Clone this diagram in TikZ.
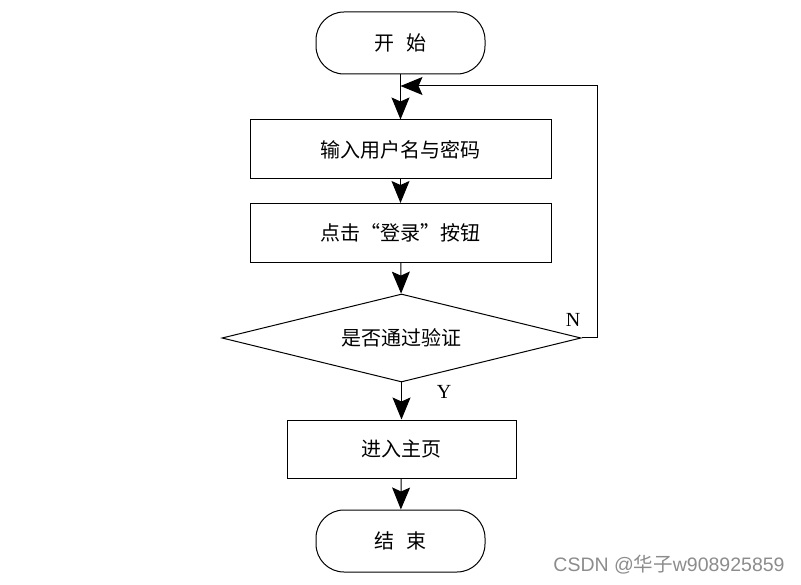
\documentclass[tikz,border=0pt]{standalone}
\usepackage{fontspec}
\setmainfont{Liberation Serif}
\newfontfamily\cjk{Noto Sans CJK SC}
\newfontfamily\wmfont{Liberation Sans}
\usetikzlibrary{arrows.meta,shapes.geometric}
\begin{document}
\begin{tikzpicture}[x=1pt,y=-1pt,
  line width=1pt,
  every node/.style={font=\cjk\fontsize{20}{20}\selectfont},
  term/.style={draw, rounded corners=28pt, minimum width=169pt, minimum height=62pt, inner sep=0pt},
  proc/.style={draw, minimum width=301pt, minimum height=59pt, inner sep=0pt},
  dec/.style={draw, diamond, aspect=4, minimum width=359pt, minimum height=88pt, inner sep=0pt},
  flow/.style={-{Stealth[length=22pt,width=18pt,inset=4pt]}},
  lbl/.style={font=\rmfamily\fontsize{20}{20}\selectfont}]
\useasboundingbox (0,0) rectangle (801,585);
\node[term] (start) at (400.5,43) {开\hspace{0.6em}始};
\node[proc] (in) at (400.5,149.5) {输入用户名与密码};
\node[proc] (click) at (400.5,233) {点击“登录”按钮};
\node[dec] (check) at (401.5,338) {是否通过验证};
\node[proc, minimum width=229pt, minimum height=58pt] (home) at (401.5,449) {进入主页};
\node[term] (end) at (400.5,541) {结\hspace{0.6em}束};
\coordinate (loopc) at (597,86);
\coordinate (join) at (400.5,86);
\draw[flow] (start) -- (in);
\draw[flow] (in) -- (click);
\draw[flow] (click) -- (check);
\draw[flow] (check) -- (home);
\draw[flow] (home) -- (end);
\draw[flow] (check.east) -| (loopc) -- (join);
\node[lbl] (nlab) at (573,320) {N};
\node[lbl] (ylab) at (444,392) {Y};
\node[font=\wmfont\fontsize{19.5}{19.5}\selectfont, text=black!45] (wm) at (669,565) {CSDN @{\cjk 华子}w908925859};
\end{tikzpicture}
\end{document}
